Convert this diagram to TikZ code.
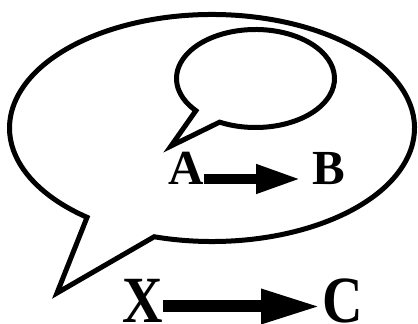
\documentclass[tikz,border=0pt]{standalone}
\usepackage{fontspec}
\setmainfont{Liberation Serif}
\usetikzlibrary{arrows.meta}
\tikzset{
  bubble/.style={draw=black, line width=5pt, line join=miter, fill=white},
  lblsmall/.style={inner sep=0pt, font=\bfseries\fontsize{49}{49}\selectfont},
  lblbig/.style={inner sep=0pt, xscale=0.85, font=\bfseries\fontsize{66}{66}\selectfont},
  arrAB/.style={line width=10pt, -{Triangle[length=45pt,width=27pt]}},
  arrXC/.style={line width=12pt, -{Triangle[length=60pt,width=32pt]}}
}
\begin{document}
\begin{tikzpicture}[x=1pt,y=1pt]
\useasboundingbox (0,0) rectangle (418,324);
% big bubble
\draw[bubble] (212,196) ++(253.4:202.5 and 113.5)
  arc[start angle=253.4, end angle=591.9, x radius=202.5, y radius=113.5]
  -- (57,31) -- cycle;
% small bubble
\draw[bubble] (255.5,245.5) ++(243:79 and 49)
  arc[start angle=243, end angle=581, x radius=79, y radius=49]
  -- (171,178) -- cycle;
% labels
\node[lblsmall, anchor=base west] (A) at (168,139) {A};
\node[lblsmall, anchor=base west] (B) at (312,139) {B};
\node[lblbig, anchor=base west] (X) at (122,1.5) {X};
\node[lblbig, anchor=base west] (C) at (322,1.5) {C};
% arrows
\draw[arrAB, shorten >=11pt] ([yshift=6pt]A.base east) -- ([yshift=6pt]B.base west);
\draw[arrXC, shorten >=1pt] ([yshift=16pt]X.base east) -- ([yshift=16pt]C.base west);
\end{tikzpicture}
\end{document}
